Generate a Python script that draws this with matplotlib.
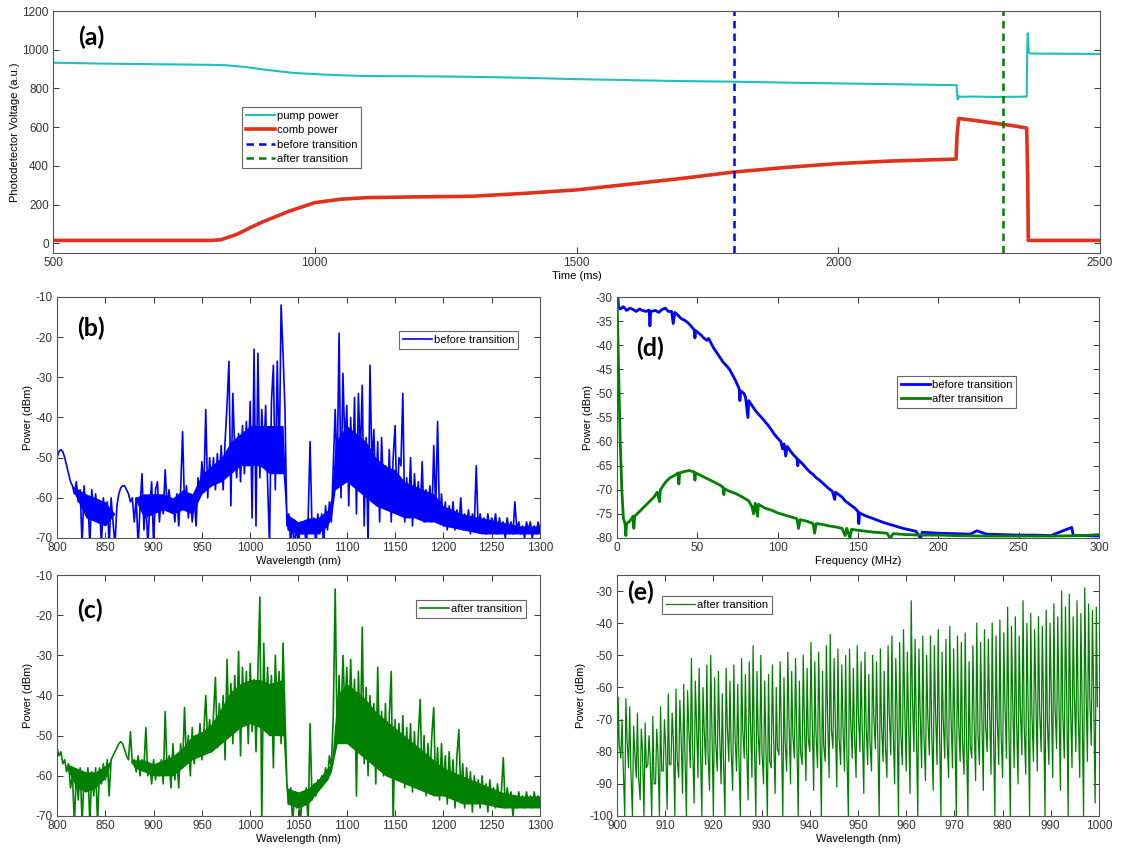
import matplotlib
matplotlib.use("Agg")
import matplotlib.pyplot as plt
import numpy as np

plt.rcParams['font.family'] = ['Liberation Sans', 'DejaVu Sans']
plt.rcParams['axes.unicode_minus'] = False
plt.rcParams['font.size'] = 8

# (a) photodetector traces vs time (ms)
t_pump = [500, 600, 700, 800, 830, 870, 910, 960, 1000, 1050, 1100, 1200, 1300, 1400, 1500,
          1600, 1700, 1800, 1900, 2000, 2100, 2200, 2226, 2228, 2230, 2232, 2260, 2300,
          2340, 2360, 2361, 2362, 2364, 2366, 2380, 2450, 2500]
v_pump = [933, 928, 925, 922, 920, 910, 895, 880, 874, 868, 864, 863, 860, 855, 848,
          843, 838, 835, 830, 826, 822, 818, 817, 743, 760, 757, 758, 756,
          757, 758, 1000, 1085, 990, 981, 980, 979, 978]
t_comb = [500, 600, 700, 800, 820, 850, 880, 900, 950, 1000, 1050, 1100, 1150, 1200, 1300,
          1400, 1500, 1600, 1700, 1800, 1900, 2000, 2100, 2225, 2227, 2230, 2260, 2300,
          2340, 2360, 2362, 2363, 2365, 2400, 2500]
v_comb = [15, 15, 15, 15, 18, 45, 85, 110, 165, 210, 228, 236, 238, 240, 243,
          258, 276, 305, 335, 368, 392, 412, 425, 435, 560, 645, 635, 620,
          605, 595, 320, 15, 15, 15, 15]
t_before = 1800
t_after = 2315

# (b) spectrum before transition, 800-1300 nm in 2 nm steps
wl_bc = np.arange(800, 1301, 2)
p_before = [
    -50, -48.5, -48, -48.5, -50, -52, -54, -56, -57, -59,
    -56, -61, -58, -72, -57, -63, -60, -72, -58, -64,
    -59, -66, -61, -72, -60, -65, -61, -72, -60, -66,
    -72, -62, -59, -57.5, -57, -57, -58, -59, -61, -60,
    -66, -60, -72, -62, -54, -68, -60, -72, -62, -56,
    -72, -58, -56, -66, -60, -64, -53, -62, -58, -63,
    -61, -66, -59, -67, -58, -43.5, -62, -57, -65, -59,
    -66, -60, -67, -55, -59, -51, -58, -38, -60, -50,
    -57, -50, -58, -49, -56, -47, -58, -46, -37, -26,
    -62, -34, -48, -55, -44, -56, -42, -54, -41, -52,
    -36, -65, -23, -67, -24, -55, -38, -50, -37, -56,
    -72, -36, -27, -58, -26, -52, -12, -24, -38, -67,
    -64, -72, -66, -72, -67, -72, -66, -69, -67, -72,
    -65, -46, -68, -65, -72, -64, -69, -64, -72, -62,
    -68, -61, -66, -52, -38, -55, -19, -60, -29, -47,
    -37, -62, -40, -55, -35, -64, -34, -50, -32, -67,
    -45, -72, -27, -52, -43, -60, -46, -66, -45, -58,
    -52, -63, -48, -66, -50, -42, -64, -50, -52, -34,
    -66, -55, -63, -50, -67, -54, -62, -56, -65, -51,
    -66, -58, -64, -57, -66, -47, -63, -41, -66, -59,
    -67, -61, -68, -62, -66, -61, -68, -63, -67, -60,
    -68, -64, -67, -63, -69, -64, -67, -52, -68, -64,
    -67, -65, -69, -64, -68, -65, -67, -64, -69, -65,
    -68, -66, -70, -65, -68, -66, -69, -61, -68, -66,
    -69, -67, -70, -66, -68, -66, -70, -67, -69, -66,
    -68]
# dense core of the (b) trace: wavelength, upper and lower edge
wl_core_b = [816, 830, 840, 850, 860, 880, 890, 900, 910, 920, 930, 940, 950,
             960, 970, 980, 990, 1000, 1010, 1020, 1034, 1038, 1050, 1060, 1070, 1080,
             1084, 1088, 1100, 1110, 1120, 1130, 1140, 1150, 1160, 1170, 1180, 1190, 1200,
             1220, 1240, 1260, 1280, 1300]
hi_core_b = [-57, -59, -60, -61, -64, -60, -59, -59, -59, -60, -58, -59, -54,
             -52, -50, -46, -44, -42, -42, -42, -42, -64, -66, -65, -65, -63,
             -60, -46, -42, -44, -46, -50, -52, -53, -56, -57, -58, -59, -62,
             -64, -65, -66, -67, -67]
lo_core_b = [-58, -65, -66, -67, -64, -60, -65, -64, -63, -64, -63, -64, -59,
             -57, -56, -54, -52, -52, -52, -54, -54, -68, -69, -69, -69, -67,
             -65, -58, -56, -58, -60, -62, -63, -64, -65, -65, -66, -66, -67,
             -68, -69, -69, -69, -69]

# (c) spectrum after transition
p_after = [
    -53, -55, -54, -57, -56, -59, -57, -63, -60, -72,
    -59, -66, -58, -72, -60, -64, -58, -72, -59, -65,
    -58, -72, -58, -62, -57, -61, -56, -65, -56, -55,
    -54, -53, -52, -51.5, -52, -53.5, -55, -56, -49, -57,
    -56, -59, -55, -60, -56, -58, -48, -60, -57, -62,
    -56, -61, -57, -60, -56, -62, -44, -59, -55, -63,
    -52, -61, -55, -63, -52, -58, -43, -56, -50, -60,
    -48, -57, -50, -55, -47, -56, -49, -40, -52, -46,
    -54, -45, -35.5, -53, -42, -51, -40, -56, -31, -50,
    -37, -52, -35, -48, -29, -55, -33, -47, -34, -52,
    -32, -49, -36, -54, -34, -15.5, -72, -27, -48, -33,
    -50, -35, -58, -30, -45, -34, -52, -27, -45, -62,
    -66, -63, -72, -64, -68, -65, -72, -64, -67, -63,
    -72, -47, -66, -62, -65, -61, -63, -60, -62, -58,
    -61, -55, -58, -45, -13.5, -52, -35, -48, -30, -44,
    -33, -50, -31, -47, -36, -65, -34, -52, -23, -57,
    -38, -60, -40, -54, -42, -62, -33, -56, -44, -60,
    -42, -58, -45, -34, -72, -46, -61, -47, -59, -45,
    -63, -48, -60, -47, -64, -49, -62, -50, -41, -63,
    -50, -65, -52, -61, -50, -43, -64, -53, -66, -52,
    -63, -55, -67, -54, -64, -56, -68, -55, -48.5, -65,
    -57, -68, -58, -66, -59, -69, -60, -66, -61, -68,
    -60, -67, -62, -69, -61, -66, -63, -68, -62, -67,
    -64, -55.5, -68, -63, -67, -64, -70, -65, -68, -64,
    -67, -65, -68, -64, -67, -65, -68, -64, -67, -65,
    -67]
wl_core_c = [810, 820, 830, 840, 852, 856, 876, 880, 890, 900, 910, 920, 930, 940, 950,
             960, 970, 980, 990, 1000, 1010, 1020, 1034, 1038, 1050, 1060, 1070, 1080,
             1084, 1090, 1100, 1110, 1120, 1130, 1140, 1150, 1160, 1170, 1180, 1190, 1200,
             1210, 1220, 1240, 1260, 1280, 1300]
hi_core_c = [-57, -58, -59, -59, -57, -56, -56, -56, -56, -57, -56, -55, -53, -50, -49,
             -47, -43, -39, -37, -36, -36, -37, -36, -63, -64, -63, -61, -58,
             -57, -40, -37, -39, -41, -44, -46, -48, -50, -52, -54, -56, -58,
             -59, -60, -62, -64, -65, -65]
lo_core_c = [-58, -63, -64, -63, -60, -56, -56, -58, -59, -60, -60, -60, -58, -56, -55,
             -54, -52, -50, -48, -47, -48, -50, -50, -67, -68, -67, -64, -61,
             -59, -52, -52, -54, -56, -58, -60, -61, -62, -63, -64, -65, -65,
             -66, -67, -67, -68, -68, -68]

# (d) RF spectra
f_before = [0.5, 1, 2, 4, 6, 8, 10, 12, 14, 16, 18, 20, 20.5, 21, 24, 26, 28, 30, 32, 34,
            35, 36, 38, 40, 42, 44, 46, 48, 48.5, 49, 52, 54, 56, 57, 60, 62, 64, 66, 68, 70,
            72, 74, 76, 76.5, 77, 79, 80, 81.5, 82, 84, 86, 88, 90, 92, 94, 96, 98, 100, 102,
            103, 104, 105, 106, 108, 110, 112, 112.5, 113, 116, 118, 120, 122, 124, 126, 128,
            130, 132, 134, 135.5, 136, 138, 140, 142, 144, 146, 148, 150, 150.5, 151, 154, 158,
            162, 166, 170, 174, 178, 182, 186, 189, 190, 195, 200, 210, 220, 224, 230, 240,
            250, 260, 270, 283, 284, 290, 300]
rf_before = [-30, -32, -32.5, -32, -32.8, -32.3, -32.6, -33, -32.5, -32.8, -33, -32.7, -36,
             -33, -32.8, -33.2, -32.6, -32.3, -33, -33, -35.5, -33.2, -33.8, -34.5, -34.8,
             -35.3, -36, -36.8, -38.5, -37, -37.8, -38.5, -39, -38.6, -40.5, -41.5, -42.5,
             -43.5, -44.2, -45, -46.2, -47.5, -49, -51.5, -49.5, -50, -50.8, -55, -51.5, -52.5,
             -53.5, -54.3, -55, -55.8, -56.6, -57.5, -58.5, -59.3, -60, -61.5, -60.5, -63, -61,
             -62, -62.8, -63.5, -65, -63.8, -64.8, -65.6, -66.3, -66.8, -67.5, -68, -68.6,
             -69.2, -69.8, -70.3, -72, -70.5, -71, -71.5, -72.3, -72.8, -73.3, -73.8, -74.5,
             -77, -74.8, -75.3, -75.8, -76.3, -76.8, -77.2, -77.6, -78, -78.3, -78.6, -80,
             -78.8, -78.9, -79, -79.1, -79.2, -78.5, -79.2, -79.3, -79.4, -79.4, -79.5, -77.8,
             -79.5, -79.5, -79.6]
f_after = [0, 1, 2, 3, 4, 5, 5.5, 6, 8, 10, 10.5, 11, 14, 17, 20, 23, 25, 26.5, 27, 30, 33,
           36, 38, 38.5, 39, 42, 45, 48, 48.5, 49, 52, 55, 58, 61, 64, 66, 66.5, 67, 70, 74,
           78, 82, 84, 85, 86, 87.5, 88, 92, 96, 100, 104, 108, 112, 113, 114, 118, 122, 123,
           124, 128, 132, 136, 140, 142, 143, 145, 146, 150, 155, 160, 168, 170, 172, 180,
           190, 200, 210, 230, 250, 270, 290, 300]
rf_after = [-30, -45, -60, -70, -76, -77, -79.5, -77, -76.5, -75.5, -78, -75.5, -74.5, -73.5,
            -72.5, -71.5, -70.5, -72.5, -70, -68.5, -67.5, -67, -66.5, -68.8, -66.5, -66.2,
            -66, -66.3, -68, -66.5, -67, -67.5, -68, -68.5, -69, -69.5, -71, -69.8, -70.3,
            -70.8, -71.5, -72.3, -73.5, -75, -72.8, -75.5, -73, -73.8, -74.2, -74.8, -75.2,
            -75.6, -76, -78, -76.2, -76.5, -77, -79, -77, -77.2, -77.5, -77.7, -78, -79.5,
            -78, -80, -78.2, -78.4, -78.6, -78.8, -79, -80, -79.1, -79.3, -79.4, -79.4, -79.5,
            -79.6, -79.6, -79.6, -79.5, -79.3]

# (e) zoom of the after-transition comb, 900-1000 nm:
# per tooth a trough, a peak and a shoulder level
comb_peaks = [
    -63, -70, -63.5, -66, -72, -68, -73, -71, -75, -69,
    -73, -66, -70, -62, -68, -60.5, -64, -59, -61, -51,
    -58, -54, -60, -53, -50, -57, -55, -62, -54, -58,
    -53, -59, -51, -56, -52, -47, -55, -50, -58, -56,
    -53, -60, -52, -57, -49, -55, -51, -58, -50, -54,
    -46, -52, -49, -55, -47, -43.5, -51, -48, -53, -50,
    -48, -54, -47, -52, -49, -56, -50, -52, -48, -55,
    -47, -44, -51, -46, -42, -49, -33, -45, -48, -44,
    -50, -44, -47, -42, -49, -45, -41, -48, -44, -46,
    -43, -52, -47, -40, -46, -42, -45, -40, -44, -39,
    -43, -35, -41, -38, -44, -33, -40, -37, -42, -38,
    -41, -36, -40, -34, -38, -30, -35, -31, -38, -33,
    -37, -29, -34, -36, -35]
comb_troughs = [
    -97, -82, -100, -85, -100, -88, -95, -100, -84, -100,
    -90, -100, -86, -98, -84, -100, -88, -93, -100, -85,
    -96, -88, -100, -84, -92, -100, -86, -90, -100, -83,
    -92, -86, -100, -82, -95, -88, -100, -84, -90, -100,
    -85, -93, -81, -100, -86, -90, -82, -100, -84, -89,
    -80, -92, -85, -100, -83, -88, -79, -91, -84, -86,
    -100, -82, -88, -80, -93, -84, -86, -79, -100, -83,
    -88, -81, -90, -100, -84, -86, -93, -80, -100, -85,
    -89, -81, -92, -84, -100, -82, -88, -85, -100, -83,
    -87, -100, -82, -89, -84, -92, -80, -87, -100, -84,
    -88, -82, -100, -85, -90, -81, -87, -100, -83, -86,
    -80, -100, -84, -88, -79, -92, -82, -100, -85, -80,
    -88, -100, -83, -78, -96]
comb_shoulders = [
    -78, -84, -76, -86, -80, -88, -79, -85, -82, -90,
    -80, -86, -78, -84, -76, -82, -74, -80, -72, -78,
    -70, -76, -73, -80, -71, -77, -74, -82, -72, -79,
    -75, -81, -73, -78, -70, -76, -74, -80, -77, -83,
    -74, -79, -72, -77, -70, -75, -73, -80, -71, -76,
    -69, -74, -71, -78, -68, -73, -70, -76, -72, -79,
    -70, -75, -68, -73, -71, -77, -69, -74, -72, -78,
    -68, -72, -66, -74, -65, -70, -62, -71, -67, -75,
    -69, -73, -67, -71, -70, -76, -68, -72, -71, -77,
    -73, -78, -70, -74, -68, -72, -66, -71, -69, -74,
    -65, -70, -63, -69, -66, -72, -64, -68, -62, -67,
    -65, -70, -61, -66, -63, -68, -60, -65, -62, -67,
    -64, -58, -63, -61, -66]

c_pump = '#1fbfbf'
c_comb = '#e0321a'
c_blue = '#0000ff'
c_green = '#008000'

W, H = 1125, 848
fig = plt.figure(figsize=(W / 100, H / 100), dpi=100)


def box(l, t, r, b):
    return [l / W, 1 - b / H, (r - l) / W, (b - t) / H]


def style(ax):
    ax.tick_params(direction='in', top=True, right=True, length=4, width=0.7,
                   colors='#333333', labelsize=8.5, pad=3)
    for s in ax.spines.values():
        s.set_color('#555555')
        s.set_linewidth(0.8)


def legend(ax, x, y, **kw):
    lg = ax.legend(loc='upper left', bbox_to_anchor=(x / W, 1 - y / H),
                   bbox_transform=fig.transFigure, fancybox=False, fontsize=8,
                   handlelength=2.6, handletextpad=0.2, borderpad=0.35,
                   labelspacing=0.4, borderaxespad=0, framealpha=1, **kw)
    lg.get_frame().set_edgecolor('#666666')
    lg.get_frame().set_linewidth(0.8)
    return lg


def panel(x, y, s):
    fig.text(x / W, 1 - y / H, s, fontsize=18, fontweight='bold', family='Lato',
             ha='center', va='center')


# (a)
ax = fig.add_axes(box(53, 11, 1100, 253))
ax.plot(t_pump, v_pump, color=c_pump, lw=1.5, label='pump power')
ax.plot(t_comb, v_comb, color=c_comb, lw=2.6, label='comb power')
ax.axvline(t_before, color=c_blue, lw=1.8, ls=(0, (3, 2)), label='before transition')
ax.axvline(t_after, color=c_green, lw=1.8, ls=(0, (3, 2)), label='after transition')
ax.set_xlim(500, 2500)
ax.set_ylim(-50, 1200)
ax.set_xticks(np.arange(500, 2501, 500))
ax.set_yticks(np.arange(0, 1201, 200))
ax.set_xlabel('Time (ms)', labelpad=1)
ax.set_ylabel('Photodetector Voltage (a.u.)', labelpad=2)
style(ax)
legend(ax, 242, 107)
panel(91, 37, '(a)')

# (b)
ax = fig.add_axes(box(57, 297, 540, 538))
ax.fill_between(wl_core_b, lo_core_b, hi_core_b, color=c_blue, lw=0)
ax.plot(wl_bc, p_before, color=c_blue, lw=1.2, label='before transition')
ax.set_xlim(800, 1300)
ax.set_ylim(-70, -10)
ax.set_xticks(np.arange(800, 1301, 50))
ax.set_yticks(np.arange(-70, -9, 10))
ax.set_xlabel('Wavelength (nm)', labelpad=1)
ax.set_ylabel('Power (dBm)', labelpad=2)
style(ax)
legend(ax, 399, 331)
panel(91, 328, '(b)')

# (c)
ax = fig.add_axes(box(57, 575, 540, 816))
ax.fill_between(wl_core_c, lo_core_c, hi_core_c, color=c_green, lw=0)
ax.plot(wl_bc, p_after, color=c_green, lw=1.2, label='after transition')
ax.set_xlim(800, 1300)
ax.set_ylim(-70, -10)
ax.set_xticks(np.arange(800, 1301, 50))
ax.set_yticks(np.arange(-70, -9, 10))
ax.set_xlabel('Wavelength (nm)', labelpad=1)
ax.set_ylabel('Power (dBm)', labelpad=2)
style(ax)
legend(ax, 416, 600)
panel(90, 610, '(c)')

# (d)
ax = fig.add_axes(box(617, 297, 1099, 538))
ax.plot(f_before, rf_before, color=c_blue, lw=2.0, label='before transition')
ax.plot(f_after, rf_after, color=c_green, lw=2.0, label='after transition')
ax.set_xlim(0, 300)
ax.set_ylim(-80, -30)
ax.set_xticks(np.arange(0, 301, 50))
ax.set_yticks(np.arange(-80, -29, 5))
ax.set_xlabel('Frequency (MHz)', labelpad=1)
ax.set_ylabel('Power (dBm)', labelpad=2)
style(ax)
legend(ax, 897, 376)
panel(650, 348, '(d)')

# (e)
n = len(comb_peaks)
step = 100 / n
x0 = 900 + step * np.arange(n)
wl_e = np.column_stack([x0, x0 + 0.3 * step, x0 + 0.6 * step]).ravel()
p_e = np.column_stack([comb_troughs, comb_peaks, comb_shoulders]).ravel()
ax = fig.add_axes(box(617, 575, 1099, 816))
ax.plot(wl_e, p_e, color=c_green, lw=0.9, label='after transition')
ax.set_xlim(900, 1000)
ax.set_ylim(-100, -25)
ax.set_xticks(np.arange(900, 1001, 10))
ax.set_yticks(np.arange(-100, -29, 10))
ax.set_xlabel('Wavelength (nm)', labelpad=1)
ax.set_ylabel('Power (dBm)', labelpad=2)
style(ax)
legend(ax, 662, 596)
panel(640, 592, '(e)')

fig.savefig('out.png', dpi=100)
